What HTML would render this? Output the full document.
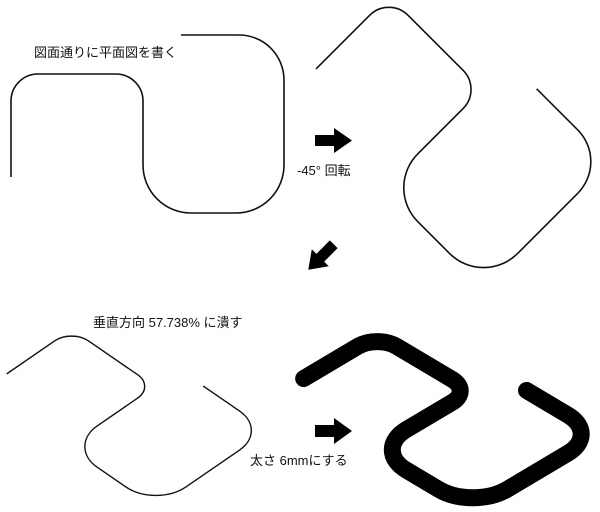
<!DOCTYPE html>
<html><head><meta charset="utf-8"><style>
html,body{margin:0;padding:0;background:#fff;width:600px;height:512px;overflow:hidden}
text{font-family:"Liberation Sans","Noto Sans CJK JP",sans-serif;font-size:13px;fill:#111}
</style></head><body>
<svg width="600" height="512" viewBox="0 0 600 512" xmlns="http://www.w3.org/2000/svg">
<defs>
<path id="s" vector-effect="non-scaling-stroke" d="M11,177 V101 A27,27 0 0 1 38,74 H116 A27,27 0 0 1 143,101 V165 A48,48 0 0 0 191,213 H236 A48,48 0 0 0 284,165 V80 A45,45 0 0 0 239,35 H181"/>
</defs>
<use href="#s" fill="none" stroke="#111" stroke-width="1.6"/>
<g transform="translate(450,128) rotate(45) translate(-147.5,-124)">
<use href="#s" fill="none" stroke="#111" stroke-width="1.6"/>
</g>
<g transform="translate(126,410) scale(0.89,0.612) rotate(45) translate(-147.5,-124)">
<use href="#s" fill="none" stroke="#111" stroke-width="1.4"/>
</g>
<g transform="translate(439,414) scale(1.01,0.6) rotate(45) translate(-147.5,-124)">
<use href="#s" fill="none" stroke="#000" stroke-width="17" stroke-linecap="round"/>
</g>
<polygon points="315,135 334,135 334,128 352,140.5 334,153 334,146 315,146" fill="#000"/>
<polygon points="315,425 334,425 334,418 352,431 334,444 334,437 315,437" fill="#000"/>
<g transform="translate(321,257) rotate(135)">
<polygon points="-18,-5.5 1,-5.5 1,-12 18,0 1,12 1,5.5 -18,5.5" fill="#000"/>
</g>
<text x="34" y="57">図面通りに平面図を書く</text>
<text x="297" y="175">-45°  回転</text>
<text x="93" y="327">垂直方向 57.738% に潰す</text>
<text x="250" y="465">太さ 6mmにする</text>
</svg>
</body></html>
